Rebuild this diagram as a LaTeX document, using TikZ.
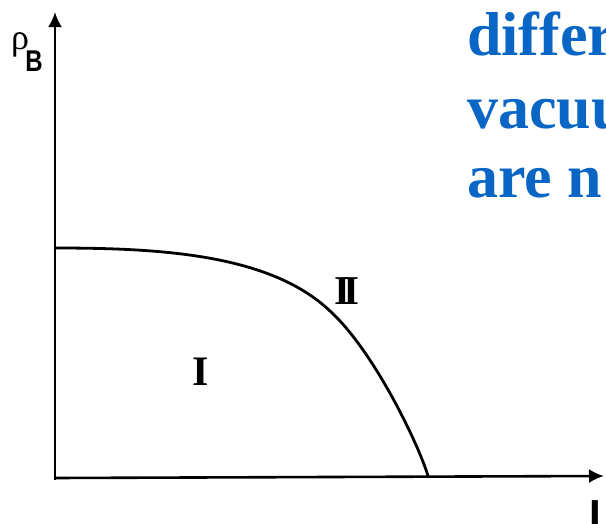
\documentclass[tikz,border=0pt]{standalone}
\usepackage{fontspec}
\setmainfont{Liberation Serif}
\newfontfamily\sansf{Liberation Sans}
\usetikzlibrary{arrows.meta}
\definecolor{slideblue}{RGB}{10,102,196}
\begin{document}
\begin{tikzpicture}[x=1pt,y=-1pt,
  axis/.style={line width=2.6pt, -{Latex[length=15pt,width=14pt]}},
  curve/.style={line width=2.8pt, line cap=round},
  roman/.style={font=\fontsize{42}{42}\selectfont\bfseries, inner sep=0},
  slide/.style={font=\fontsize{62}{62}\selectfont\bfseries, text=slideblue, anchor=base west, inner sep=0}]
\useasboundingbox (0,0) rectangle (606,523);
\clip (0,0) rectangle (606,523);
\coordinate (O) at (55,478);
\coordinate (ytip) at (55,12);
\coordinate (xtip) at (604,476);
\coordinate (c0) at (55,248);
\coordinate (c1) at (330,311);
\coordinate (c2) at (428,476);
\draw[axis] (55,480) -- (ytip);
\draw[axis] (54,478) -- (xtip);
\draw[curve] (c0) .. controls (160,248) and (270,254) .. (c1)
  .. controls (375,352) and (420,448) .. (c2);
\node[roman] (I) at (201,372) {I};
\node[roman, font=\fontsize{41}{41}\selectfont\bfseries] (II) at (347,291) {I\kern-6.5ptI};
\node[inner sep=0, font=\fontsize{36}{36}\selectfont] (rho) at (20,45) {ρ};
\node[inner sep=0, xscale=0.8, font=\sansf\fontsize{30}{30}\selectfont\bfseries] (B) at (34,61) {B};
\node[inner sep=0, anchor=north west, font=\sansf\fontsize{42}{42}\selectfont\bfseries] (L) at (589,500) {L};
\node[slide] (t1) at (467,55) {differ};
\node[slide] (t2) at (467,128) {vacuu};
\node[slide] (t3) at (467,197) {are n};
\end{tikzpicture}
\end{document}
